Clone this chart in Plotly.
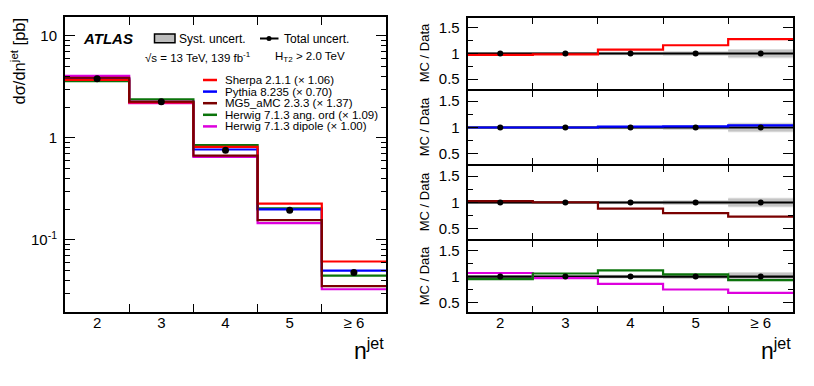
import plotly.graph_objects as go

# bins of the jet multiplicity
bin_labels = ['2', '3', '4', '5', '≥ 6']
bin_centers = [2, 3, 4, 5, 6]
bin_edges = [1.5, 2.5, 3.5, 4.5, 5.5, 6.5]

# measured cross-section [pb]
data_xs = [3.78, 2.25, 0.757, 0.195, 0.048]
data_stat = [0.005, 0.007, 0.012, 0.025, 0.04]      # relative
unc_total = [0.03, 0.03, 0.035, 0.045, 0.09]        # relative
unc_syst = [0.02, 0.02, 0.025, 0.035, 0.07]         # relative

# MC / Data ratios (already scaled as quoted in the legend)
ratio_sherpa = [0.975, 0.985, 1.075, 1.16, 1.28]
ratio_pythia = [1.0, 1.0, 1.015, 1.02, 1.04]
ratio_mg5 = [1.025, 1.005, 0.885, 0.80, 0.735]
ratio_herwig_ang = [0.95, 1.06, 1.12, 1.045, 0.93]
ratio_herwig_dip = [1.07, 0.97, 0.86, 0.75, 0.685]

mc_names = ['Sherpa 2.1.1 (× 1.06)', 'Pythia 8.235 (× 0.70)', 'MG5_aMC 2.3.3 (× 1.37)',
            'Herwig 7.1.3 ang. ord (× 1.09)', 'Herwig 7.1.3 dipole (× 1.00)']
mc_colors = ['#ff0000', '#0000ff', '#7a0000', '#0b740b', '#dd00dd']
mc_ratios = [ratio_sherpa, ratio_pythia, ratio_mg5, ratio_herwig_ang, ratio_herwig_dip]

FONT = 'Liberation Sans, Arial, sans-serif'
W, H = 814, 386


def px(x):
    return x / W


def py(y):
    return 1 - y / H


def steps(vals):
    return bin_edges, list(vals) + [vals[-1]]


fig = go.Figure()

# ---- main panel: step histograms
draw_order = [4, 3, 1, 0, 2]
for i in draw_order:
    mc = [d * r for d, r in zip(data_xs, mc_ratios[i])]
    xs, ys = steps(mc)
    fig.add_trace(go.Scatter(x=xs, y=ys, mode='lines', line_shape='hv',
                             line=dict(color=mc_colors[i], width=2.2),
                             xaxis='x', yaxis='y', showlegend=False))

fig.add_trace(go.Scatter(x=bin_centers, y=data_xs, mode='markers',
                         marker=dict(color='black', size=7),
                         error_y=dict(type='data', array=[d * s for d, s in zip(data_xs, data_stat)],
                                      color='black', thickness=1.5, width=0),
                         xaxis='x', yaxis='y', showlegend=False))

# ---- ratio panels
panels = [[0], [1], [2], [4, 3]]
panel_px = [(18, 88.5), (91, 163.5), (166, 238.5), (241, 311.7)]
for p, members in enumerate(panels):
    ax = str(p + 2)
    fig.add_trace(go.Bar(x=bin_centers, y=[2 * u for u in unc_total], base=[1 - u for u in unc_total],
                         width=1, marker=dict(color='#dcdcdc', line_width=0),
                         xaxis='x' + ax, yaxis='y' + ax, showlegend=False))
    fig.add_trace(go.Bar(x=bin_centers, y=[2 * u for u in unc_syst], base=[1 - u for u in unc_syst],
                         width=1, marker=dict(color='#c4c4c4', line_width=0),
                         xaxis='x' + ax, yaxis='y' + ax, showlegend=False))
    xs, ys = steps([1.0] * len(bin_centers))
    fig.add_trace(go.Scatter(x=xs, y=ys, mode='lines', line_shape='hv',
                             line=dict(color='black', width=2.2),
                             xaxis='x' + ax, yaxis='y' + ax, showlegend=False))
    for i in members:
        xs, ys = steps(mc_ratios[i])
        fig.add_trace(go.Scatter(x=xs, y=ys, mode='lines', line_shape='hv',
                                 line=dict(color=mc_colors[i], width=2.2),
                                 xaxis='x' + ax, yaxis='y' + ax, showlegend=False))
    fig.add_trace(go.Scatter(x=bin_centers, y=[1.0] * len(bin_centers), mode='markers',
                             marker=dict(color='black', size=6),
                             error_y=dict(type='data', array=data_stat, color='black',
                                          thickness=2, width=0),
                             xaxis='x' + ax, yaxis='y' + ax, showlegend=False))

# ---- axes
tick_font = dict(family=FONT, size=15, color='black')
frame = dict(showline=True, linecolor='black', linewidth=2, mirror='ticks',
             showgrid=False, zeroline=False, tickcolor='black', tickwidth=1.2,
             tickfont=tick_font)
bare = dict(showline=False, showgrid=False, zeroline=False, tickcolor='black',
            tickwidth=1.2, tickfont=tick_font)

log_minor = [m * 10 ** e for e in (-2, -1, 0, 1) for m in range(2, 10)]
LOG_RANGE = [-1.703, 1.18]
RATIO_RANGE = [0.32, 1.69]

layout = dict(
    width=W, height=H, margin=dict(l=0, r=0, t=0, b=0),
    paper_bgcolor='white', plot_bgcolor='white', barmode='overlay',
    font=dict(family=FONT, color='black'),
    xaxis=dict(frame, domain=[px(65), px(386)], anchor='y', range=[1.5, 6.5],
               tickmode='array', tickvals=bin_edges[1:-1], ticks='inside', ticklen=8,
               showticklabels=False),
    yaxis=dict(frame, domain=[py(311.7), py(17.3)], anchor='x', type='log',
               range=LOG_RANGE, tickmode='array', tickvals=[0.1, 1, 10],
               ticktext=['10<sup>-1</sup>', '1', '10'], ticks='inside', ticklen=10,
               ticklabelstandoff=3),
)

for p, (top, bot) in enumerate(panel_px):
    ax = str(p + 2)
    layout['xaxis' + ax] = dict(frame, domain=[px(467.7), px(793.3)], anchor='y' + ax,
                                range=[1.5, 6.5], tickmode='array', tickvals=bin_edges[1:-1],
                                ticks='inside', ticklen=6, showticklabels=False)
    layout['yaxis' + ax] = dict(frame, domain=[py(bot), py(top)], anchor='x' + ax,
                                range=RATIO_RANGE, tickmode='array', tickvals=[0.5, 1, 1.5],
                                ticktext=['0.5', '1', '1.5'], ticks='inside', ticklen=10,
                                ticklabelstandoff=3)

# overlay axes: bin labels at centres, short minor ticks on both sides.
# each overlay gets an invisible copy of the data so that plotly draws it
ghost = dict(mode='markers', marker=dict(opacity=0, size=1), hoverinfo='skip', showlegend=False)
n_ax = 6
overlays = [('x', 'y', data_xs), ('x5', 'y5', [1.0] * len(bin_centers))]
for base_x, base_y, yvals in overlays:
    layout['xaxis%d' % n_ax] = dict(bare, overlaying=base_x, anchor=base_y, side='bottom',
                                    range=[1.5, 6.5], tickmode='array', tickvals=bin_centers,
                                    ticktext=bin_labels, ticks='', ticklabelstandoff=0)
    fig.add_trace(go.Scatter(x=bin_centers, y=yvals, xaxis='x%d' % n_ax, yaxis=base_y, **ghost))
    n_ax += 1

minor_specs = [('y', 'x', 'log', LOG_RANGE, log_minor, data_xs)]
for p in range(len(panel_px)):
    ax = str(p + 2)
    minor_specs.append(('y' + ax, 'x' + ax, 'linear', RATIO_RANGE, [0.75, 1.25],
                        [1.0] * len(bin_centers)))
for base_y, base_x, typ, rng, vals, yvals in minor_specs:
    for side in ('left', 'right'):
        layout['yaxis%d' % n_ax] = dict(bare, overlaying=base_y, anchor=base_x, side=side,
                                        type=typ, range=rng, tickmode='array', tickvals=vals,
                                        ticks='inside', ticklen=5, showticklabels=False)
        fig.add_trace(go.Scatter(x=bin_centers, y=yvals, xaxis=base_x, yaxis='y%d' % n_ax,
                                 **ghost))
        n_ax += 1

fig.update_layout(**layout)

# ---- texts
ann = []
shapes = []
ann.append(dict(text='dσ/dn<sup>jet</sup> [pb]', x=px(18), y=py(16), textangle=-90,
                xanchor='center', yanchor='top', font=dict(size=16.5)))
for side_right in (386, 793.3):
    ann.append(dict(text='n<sup>jet</sup>', x=px(side_right), y=py(349), xanchor='right',
                    yanchor='middle', font=dict(size=23)))
for top, bot in panel_px:
    ann.append(dict(text='MC / Data', x=px(424), y=py((top + bot) / 2), textangle=-90,
                    xanchor='center', yanchor='middle', font=dict(size=13)))

ann.append(dict(text='<b><i>ATLAS</i></b>', x=px(81), y=py(38.5), xanchor='left',
                yanchor='middle', font=dict(size=15)))
ann.append(dict(text='Syst. uncert.', x=px(177), y=py(38.5), xanchor='left',
                yanchor='middle', font=dict(size=12)))
ann.append(dict(text='Total uncert.', x=px(281.5), y=py(38.5), xanchor='left',
                yanchor='middle', font=dict(size=12)))
ann.append(dict(text='√s = 13 TeV, 139 fb<sup>-1</sup>', x=px(143), y=py(57.5), xanchor='left',
                yanchor='middle', font=dict(size=11.5)))
ann.append(dict(text='H<sub>T2</sub> > 2.0 TeV', x=px(272.5), y=py(57.5), xanchor='left',
                yanchor='middle', font=dict(size=11.5)))

shapes.append(dict(type='rect', xref='paper', yref='paper', x0=px(154.5), x1=px(175),
                   y0=py(42.7), y1=py(34), fillcolor='#bdbdbd', line=dict(color='black', width=1.5)))
shapes.append(dict(type='line', xref='paper', yref='paper', x0=px(260), x1=px(278.5),
                   y0=py(38.5), y1=py(38.5), line=dict(color='black', width=2)))
shapes.append(dict(type='circle', xref='paper', yref='paper', x0=px(266.5), x1=px(271.5),
                   y0=py(41), y1=py(36), fillcolor='black', line=dict(color='black', width=0)))

for k, (name, col) in enumerate(zip(mc_names, mc_colors)):
    yy = 80 + 11.6 * k
    shapes.append(dict(type='line', xref='paper', yref='paper', x0=px(203), x1=px(217),
                       y0=py(yy), y1=py(yy), line=dict(color=col, width=2.5)))
    ann.append(dict(text=name, x=px(223), y=py(yy), xanchor='left', yanchor='middle',
                    font=dict(size=11.5)))

for a in ann:
    a.update(xref='paper', yref='paper', showarrow=False)
    a['font'] = dict(a['font'], family=FONT, color='black')

fig.update_layout(annotations=ann, shapes=shapes)

fig.write_html("out.html", config={'displayModeBar': False},
               post_script="document.body.style.margin='0';")
